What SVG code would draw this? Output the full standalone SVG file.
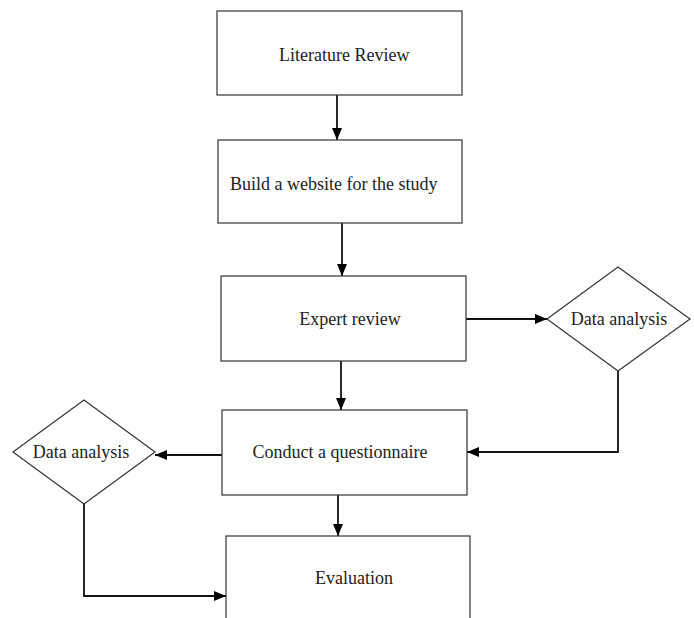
<svg xmlns="http://www.w3.org/2000/svg" width="694" height="618" viewBox="0 0 694 618">
<defs>
<marker id="arr" markerWidth="12" markerHeight="10" refX="12" refY="5" orient="auto" markerUnits="userSpaceOnUse">
<path d="M0,0 L12,5 L0,10 Z" fill="#000"/>
</marker>
<style>
.box{fill:#fff;stroke:#333;stroke-width:1.2}
.t{font-family:"Liberation Serif","Times New Roman",serif;font-size:18px;fill:#222}
.c{fill:none;stroke:#111;stroke-width:1.8}
</style>
</defs>
<rect width="694" height="618" fill="#fff"/>
<g id="connectors">
<path class="c" d="M337,95 L337,140" marker-end="url(#arr)"/>
<path class="c" d="M342,223 L342,276" marker-end="url(#arr)"/>
<path class="c" d="M466,319 L547,319" marker-end="url(#arr)"/>
<path class="c" d="M618,371 L618,452 L467,452" marker-end="url(#arr)"/>
<path class="c" d="M341,361 L341,410" marker-end="url(#arr)"/>
<path class="c" d="M222,455 L155,455" marker-end="url(#arr)"/>
<path class="c" d="M84,504 L84,596 L226,596" marker-end="url(#arr)"/>
<path class="c" d="M338,495 L338,536" marker-end="url(#arr)"/>
</g>
<g id="literature-review">
<rect class="box" x="217" y="11" width="245" height="84"/>
<text class="t" x="279" y="61">Literature Review</text>
</g>
<g id="build-website">
<rect class="box" x="218" y="140" width="244" height="83"/>
<text class="t" x="230" y="190">Build a website for the study</text>
</g>
<g id="expert-review">
<rect class="box" x="221" y="276" width="245" height="85"/>
<text class="t" x="350" y="325" text-anchor="middle">Expert review</text>
</g>
<g id="data-analysis-right">
<polygon class="box" points="618,267 690,319 618,371 547,319"/>
<text class="t" x="619" y="325" text-anchor="middle">Data analysis</text>
</g>
<g id="conduct-questionnaire">
<rect class="box" x="222" y="410" width="245" height="85"/>
<text class="t" x="340" y="458" text-anchor="middle">Conduct a questionnaire</text>
</g>
<g id="data-analysis-left">
<polygon class="box" points="84,400 155,452 84,504 13,452"/>
<text class="t" x="81" y="458" text-anchor="middle">Data analysis</text>
</g>
<g id="evaluation">
<rect class="box" x="226" y="536" width="244" height="100"/>
<text class="t" x="354" y="584" text-anchor="middle">Evaluation</text>
</g>
</svg>
